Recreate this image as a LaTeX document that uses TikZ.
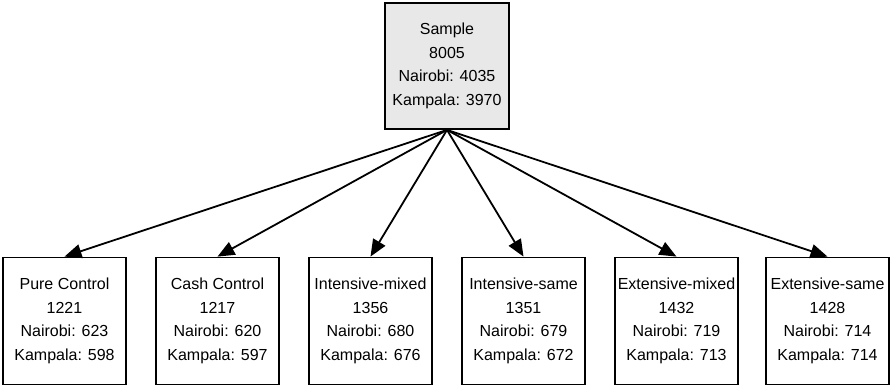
\documentclass[tikz,border=0pt]{standalone}
\usepackage{fontspec}
\setmainfont{Liberation Sans}
\usetikzlibrary{arrows.meta}
\begin{document}
\begin{tikzpicture}[x=1pt,y=-1pt,
  box/.style={draw, line width=1.8pt, minimum width=123pt, minimum height=127pt,
    inner sep=0pt, align=center, font=\fontsize{16}{23.5}\selectfont},
  topbox/.style={box, fill=black!9, minimum width=124pt, minimum height=126pt},
  edge/.style={line width=1.8pt, -{Triangle[length=17pt,width=14pt]}}]
\useasboundingbox (0,0) rectangle (890,386);
\node[topbox] (s) at (447,66) {Sample\\8005\\Nairobi: 4035\\Kampala: 3970};
\coordinate (src) at (447,129);
\node[box] (b1) at (64.5,321) {Pure Control\\1221\\Nairobi: 623\\Kampala: 598};
\node[box] (b2) at (217.5,321) {Cash Control\\1217\\Nairobi: 620\\Kampala: 597};
\node[box] (b3) at (370.5,321) {Intensive-mixed\\1356\\Nairobi: 680\\Kampala: 676};
\node[box] (b4) at (523.5,321) {Intensive-same\\1351\\Nairobi: 679\\Kampala: 672};
\node[box] (b5) at (676.5,321) {Extensive-mixed\\1432\\Nairobi: 719\\Kampala: 713};
\node[box] (b6) at (827.5,321) {Extensive-same\\1428\\Nairobi: 714\\Kampala: 714};
\foreach \b in {b1,b2,b3,b4,b5,b6}
  \draw[edge] (s.south) -- (\b.north);
\end{tikzpicture}
\end{document}
